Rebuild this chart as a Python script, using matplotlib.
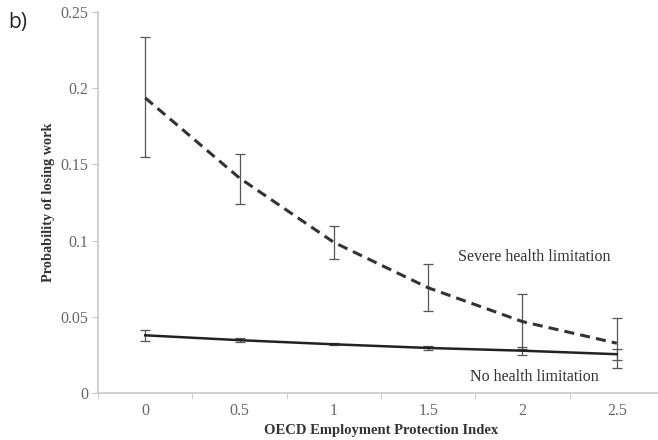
import numpy as np
import matplotlib
matplotlib.use("Agg")
import matplotlib.pyplot as plt
from matplotlib.ticker import FixedLocator

# data
epl_labels = ["0", "0.5", "1", "1.5", "2", "2.5"]
severe = [0.1936, 0.1410, 0.0988, 0.0690, 0.0468, 0.0326]
severe_lo = [0.1550, 0.1240, 0.0879, 0.0540, 0.0289, 0.0162]
severe_hi = [0.2336, 0.1565, 0.1097, 0.0844, 0.0647, 0.0490]
nolim = [0.0378, 0.0346, 0.0319, 0.0295, 0.0277, 0.0254]
nolim_lo = [0.0341, 0.0331, 0.0312, 0.0280, 0.0250, 0.0216]
nolim_hi = [0.0413, 0.0361, 0.0326, 0.0310, 0.0300, 0.0288]
y_ticks = [0, 0.05, 0.1, 0.15, 0.2, 0.25]
y_ticklabels = ["0", "0.05", "0.1", "0.15", "0.2", "0.25"]

serif = ["Liberation Serif", "DejaVu Serif"]
x = np.arange(len(epl_labels))

fig = plt.figure(figsize=(6.58, 4.4), dpi=100)
ax = fig.add_axes([0.149, 0.107, 0.860, 0.866])

sev = np.array(severe)
nl = np.array(nolim)
ax.errorbar(x, sev, yerr=[sev - np.array(severe_lo), np.array(severe_hi) - sev],
            fmt="none", ecolor="#555555", elinewidth=0.9, capsize=3.5, capthick=0.9)
ax.errorbar(x, nl, yerr=[nl - np.array(nolim_lo), np.array(nolim_hi) - nl],
            fmt="none", ecolor="#555555", elinewidth=0.9, capsize=3.5, capthick=0.9)
ax.plot(x, sev, color="#333333", lw=2.2, dashes=(3.3, 2.0))
ax.plot(x, nl, color="#222222", lw=1.8)

ax.text(4.13, 0.0892, "Severe health limitation", family=serif, fontsize=11.5,
        color="#333333", ha="center", va="center")
ax.text(4.13, 0.0105, "No health limitation", family=serif, fontsize=11.5,
        color="#333333", ha="center", va="center")

ax.set_xlim(-0.5, 5.5)
ax.set_ylim(0, 0.25)
ax.set_xticks(x)
ax.set_xticklabels(epl_labels)
ax.xaxis.set_minor_locator(FixedLocator(np.arange(-0.5, 6, 1.0)))
ax.tick_params(axis="x", which="major", length=0, pad=7)
ax.tick_params(axis="x", which="minor", length=4, color="#c8c8c8", direction="out")
ax.set_yticks(y_ticks)
ax.set_yticklabels(y_ticklabels)
ax.tick_params(axis="y", length=4, color="#c8c8c8", direction="out", pad=3)
for lab in ax.get_xticklabels() + ax.get_yticklabels():
    lab.set_family(serif)
    lab.set_fontsize(11.5)
    lab.set_color("#666666")

for s in ["top", "right"]:
    ax.spines[s].set_visible(False)
for s in ["left", "bottom"]:
    ax.spines[s].set_color("#c8c8c8")
    ax.spines[s].set_linewidth(1.2)

ax.set_xlabel("OECD Employment Protection Index", family=serif, fontsize=10.5,
              fontweight="bold", color="#333333", labelpad=4)
ax.set_ylabel("Probability of losing work", family=serif, fontsize=10.3,
              fontweight="bold", color="#333333", labelpad=4)

fig.text(0.012, 0.948, "b)", family=["Open Sans", "DejaVu Sans"], fontsize=15,
         color="#222222", va="center")

fig.savefig("out.png", dpi=100)
